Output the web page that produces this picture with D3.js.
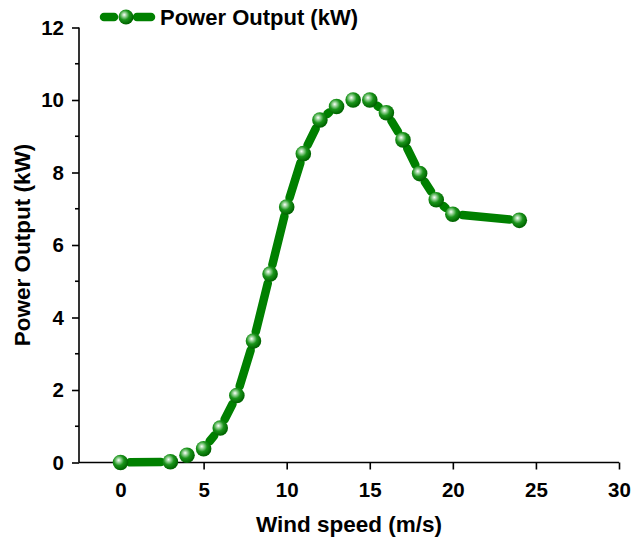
<!DOCTYPE html>
<html>
<head>
<meta charset="utf-8">
<script src="https://cdn.jsdelivr.net/npm/d3@7"></script>
<style>
  body { margin: 0; background: #fff; }
  text { font-family: Arial, "Liberation Sans", sans-serif; font-weight: bold; }
</style>
</head>
<body>
<svg id="chart" width="638" height="538"></svg>
<script>
const windSpeed = [0, 3, 4, 5, 6, 7, 8, 9, 10, 11, 12, 13, 14, 15, 16, 17, 18, 19, 20, 24];
const power = [0, 0.02, 0.2, 0.38, 0.95, 1.85, 3.35, 5.2, 7.05, 8.52, 9.45, 9.82, 10.0, 10.0, 9.65, 8.9, 7.97, 7.25, 6.85, 6.68];
const xTicks = [0, 5, 10, 15, 20, 25, 30];
const yTicks = [0, 2, 4, 6, 8, 10, 12];
const yMinor = [1, 3, 5, 7, 9, 11];

const data = windSpeed.map((x, i) => ({x, y: power[i]}));
const green = "#008000";

const svg = d3.select("#chart");
const margin = {left: 79, right: 19, top: 27.5, bottom: 75.5};
const width = 638, height = 538;

const x = d3.scaleLinear().domain([-2.5, 30]).range([margin.left, width - margin.right]);
const y = d3.scaleLinear().domain([0, 12]).range([height - margin.bottom, margin.top]);

// gradient for sphere markers
const defs = svg.append("defs");
const grad = defs.append("radialGradient")
  .attr("id", "ball").attr("cx", "40%").attr("cy", "38%").attr("r", "60%")
  .attr("fx", "38%").attr("fy", "35%");
grad.append("stop").attr("offset", "0%").attr("stop-color", "#ffffff");
grad.append("stop").attr("offset", "22%").attr("stop-color", "#9fd69f");
grad.append("stop").attr("offset", "55%").attr("stop-color", "#1a941a");
grad.append("stop").attr("offset", "100%").attr("stop-color", "#006400");

// axes
const xAxis = d3.axisBottom(x).tickValues(xTicks).tickSize(7).tickPadding(13);
const yAxis = d3.axisLeft(y).tickValues(yTicks).tickSize(7).tickPadding(8);

const gx = svg.append("g")
  .attr("transform", "translate(0," + y(0) + ")")
  .call(xAxis);
const gy = svg.append("g")
  .attr("transform", "translate(" + margin.left + ",0)")
  .call(yAxis);

[gx, gy].forEach(g => {
  g.select(".domain").attr("stroke", "#000").attr("stroke-width", 1.6);
  g.selectAll(".tick line").attr("stroke", "#000").attr("stroke-width", 1.6);
  g.selectAll(".tick text").attr("font-size", 20.5).attr("font-weight", "bold")
    .attr("font-family", "Arial, 'Liberation Sans', sans-serif").attr("fill", "#000");
});
gx.select(".domain").attr("d", "M" + x(-2.5) + ",0H" + x(30));
gy.select(".domain").attr("d", "M0," + y(0) + "V" + y(12));

// minor y ticks
gy.selectAll(".minor").data(yMinor).join("line")
  .attr("x1", 0).attr("x2", -4)
  .attr("y1", d => y(d)).attr("y2", d => y(d))
  .attr("stroke", "#000").attr("stroke-width", 1.6);

// axis titles
svg.append("text")
  .attr("x", (x(-2.5) + x(30)) / 2).attr("y", 532)
  .attr("text-anchor", "middle").attr("font-size", 22.5)
  .text("Wind speed (m/s)");
svg.append("text")
  .attr("transform", "translate(30," + ((y(0) + y(12)) / 2) + ") rotate(-90)")
  .attr("text-anchor", "middle").attr("font-size", 22.5)
  .text("Power Output (kW)");

// line segments with gaps near markers
const r = 7.8, gap = 1.8;
const segs = [];
for (let i = 0; i < data.length - 1; i++) {
  const x1 = x(data[i].x), y1 = y(data[i].y);
  const x2 = x(data[i + 1].x), y2 = y(data[i + 1].y);
  const len = Math.hypot(x2 - x1, y2 - y1);
  const cut = r + gap;
  if (len <= 2 * cut) continue;
  const ux = (x2 - x1) / len, uy = (y2 - y1) / len;
  segs.push([x1 + ux * cut, y1 + uy * cut, x2 - ux * cut, y2 - uy * cut]);
}
svg.append("g").selectAll("line").data(segs).join("line")
  .attr("x1", d => d[0]).attr("y1", d => d[1])
  .attr("x2", d => d[2]).attr("y2", d => d[3])
  .attr("stroke", green).attr("stroke-width", 8.5).attr("stroke-linecap", "round");

// markers
svg.append("g").selectAll("circle").data(data).join("circle")
  .attr("cx", d => x(d.x)).attr("cy", d => y(d.y)).attr("r", r)
  .attr("fill", "url(#ball)");

// legend
const lg = svg.append("g");
lg.append("line").attr("x1", 104).attr("x2", 114).attr("y1", 17).attr("y2", 17)
  .attr("stroke", green).attr("stroke-width", 8.5).attr("stroke-linecap", "round");
lg.append("line").attr("x1", 137).attr("x2", 151).attr("y1", 17).attr("y2", 17)
  .attr("stroke", green).attr("stroke-width", 8.5).attr("stroke-linecap", "round");
lg.append("circle").attr("cx", 126).attr("cy", 17).attr("r", 7.5).attr("fill", "url(#ball)");
lg.append("text").attr("x", 160).attr("y", 25).attr("font-size", 22)
  .text("Power Output (kW)");
</script>
</body>
</html>
